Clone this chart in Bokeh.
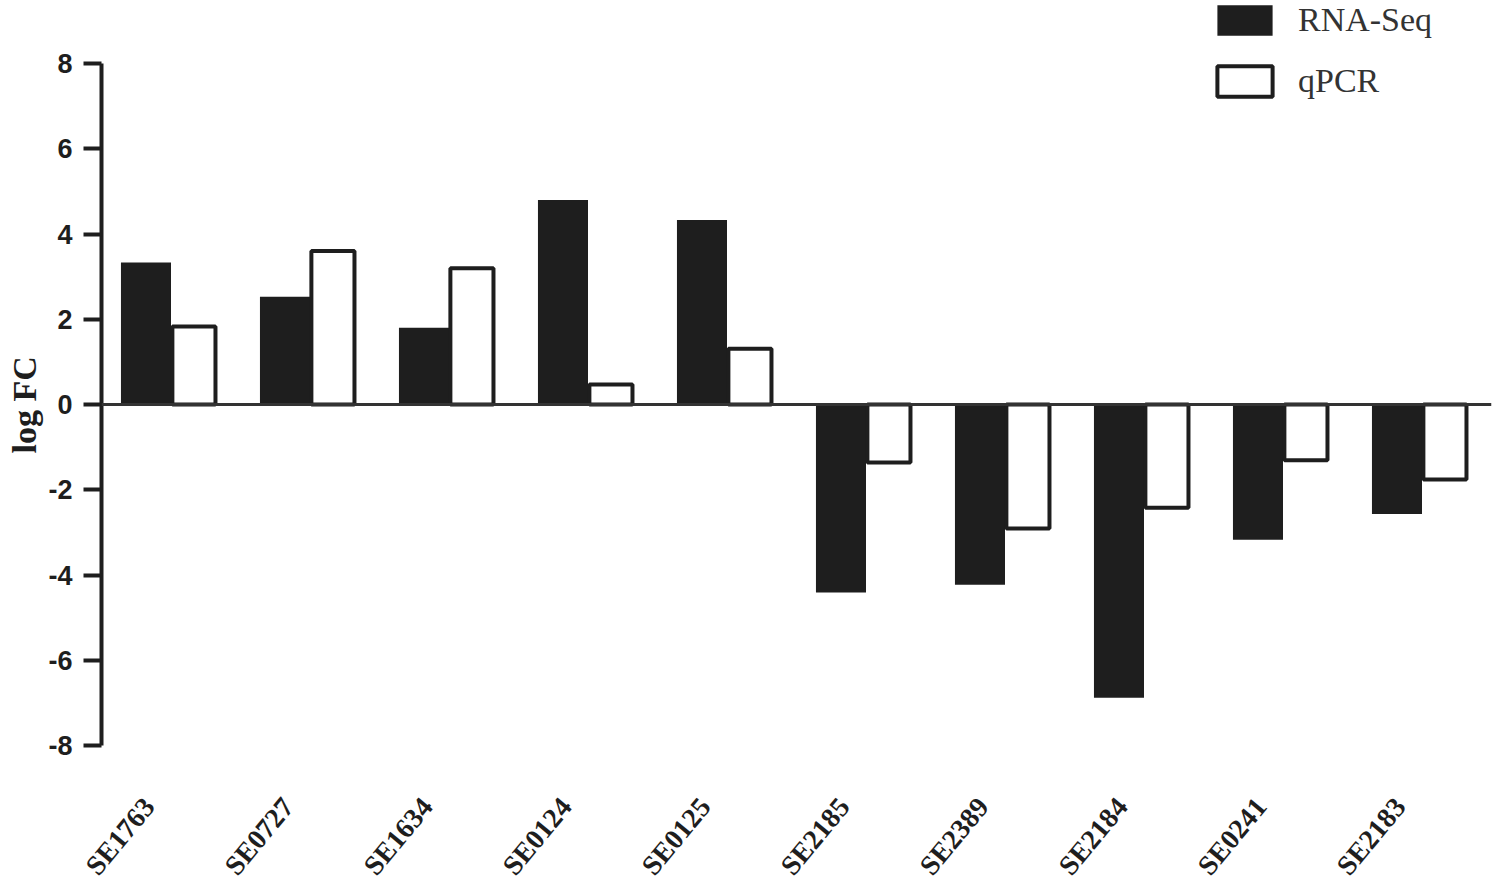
import numpy as np
from bokeh.plotting import figure
from bokeh.models import (ColumnDataSource, Range1d, Span, Legend, Title,
                          LegendItem, FixedTicker)
from bokeh.embed import file_html
from bokeh.resources import INLINE

genes = ["SE1763", "SE0727", "SE1634", "SE0124", "SE0125",
         "SE2185", "SE2389", "SE2184", "SE0241", "SE2183"]
rna_seq = [3.33, 2.53, 1.80, 4.80, 4.33, -4.41, -4.23, -6.88, -3.17, -2.57]
qpcr = [1.83, 3.60, 3.20, 0.47, 1.31, -1.36, -2.91, -2.42, -1.31, -1.76]
y_ticks = [-8, -6, -4, -2, 0, 2, 4, 6, 8]

centers = np.arange(len(genes)) + 0.5
src = ColumnDataSource(dict(x_rna=centers - 0.18, x_qpcr=centers + 0.165,
                            rna=rna_seq, qpcr=qpcr))

p = figure(x_range=Range1d(0, len(genes)),
           y_range=Range1d(-8, 9.48),
           frame_width=1390, frame_height=745,
           min_border_left=101, min_border_top=0, min_border_right=5,
           min_border_bottom=0,
           output_backend="svg", toolbar_location=None,
           background_fill_color="white", border_fill_color="white")
p.outline_line_color = None
p.xgrid.grid_line_color = None
p.ygrid.grid_line_color = None

dark = "#1e1e1e"
r1 = p.vbar(x="x_rna", top="rna", bottom=0, width=0.36, source=src,
            fill_color=dark, line_color=None)
r2 = p.vbar(x="x_qpcr", top="qpcr", bottom=0, width=0.31, source=src,
            fill_color="white", line_color=dark, line_width=4)

p.add_layout(Span(location=0, dimension="width", line_color="#333333",
                  line_width=3))

# y axis
ya = p.yaxis[0]
ya.ticker = FixedTicker(ticks=y_ticks)
ya.major_label_overrides = {t: str(t) for t in y_ticks}
ya.bounds = (-8, 8)
ya.axis_line_width = 4
ya.axis_line_color = dark
ya.major_tick_line_width = 4
ya.major_tick_line_color = dark
ya.major_tick_out = 18
ya.major_tick_in = 0
ya.minor_tick_line_color = None
ya.major_label_standoff = 11
ya.major_label_text_font = "Liberation Sans"
ya.major_label_text_font_style = "bold"
ya.major_label_text_font_size = "27px"
ya.major_label_text_color = dark

# y axis title, centred on the zero line
p.add_layout(Title(text="log FC", align="left", offset=292, standoff=6,
                   text_font="Liberation Serif", text_font_style="bold",
                   text_font_size="34px", text_color=dark), "left")

# x axis (category labels)
xa = p.xaxis[0]
xa.ticker = FixedTicker(ticks=list(centers - 0.16))
xa.major_label_overrides = {float(c - 0.16): g for c, g in zip(centers, genes)}
xa.axis_line_color = None
xa.major_tick_line_color = None
xa.minor_tick_line_color = None
xa.major_label_orientation = 0.88
xa.major_label_standoff = 50
xa.major_label_text_font = "Liberation Serif"
xa.major_label_text_font_style = "bold"
xa.major_label_text_font_size = "28px"
xa.major_label_text_color = dark

legend = Legend(items=[LegendItem(label="RNA-Seq", renderers=[r1]),
                       LegendItem(label="qPCR", renderers=[r2])],
                location=(1109, 645), glyph_width=69, glyph_height=38,
                label_height=38, spacing=23, label_standoff=19, padding=0,
                margin=0, border_line_color=None, background_fill_alpha=0,
                label_text_font="Liberation Serif",
                label_text_font_size="34px", label_text_color="#333333")
p.add_layout(legend, "center")

open("out.html", "w").write(file_html(p, INLINE))
